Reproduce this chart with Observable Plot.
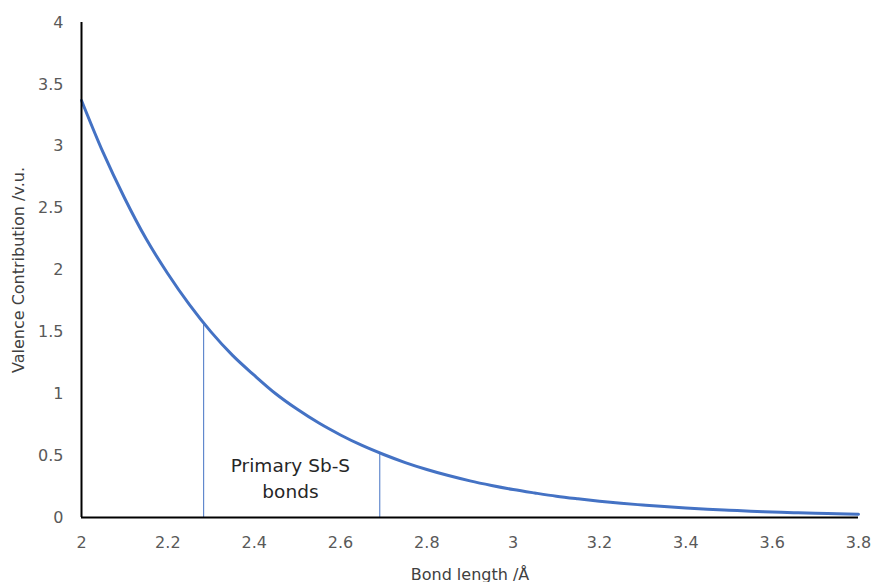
<!DOCTYPE html>
<html>
<head>
<meta charset="utf-8">
<script src="https://cdn.jsdelivr.net/npm/d3@7"></script>
<script src="https://cdn.jsdelivr.net/npm/@observablehq/plot@0.6"></script>
<style>
  html, body { margin: 0; padding: 0; background: #fff; }
  #chart { width: 872px; height: 582px; }
</style>
</head>
<body>
<div id="chart"></div>
<script>
// Bond length (Å) and valence contribution (v.u.)
const bondLength = [2.00, 2.05, 2.10, 2.15, 2.20, 2.25, 2.30, 2.35, 2.40, 2.45, 2.50, 2.55, 2.60, 2.65, 2.70, 2.75, 2.80, 2.85, 2.90, 2.95, 3.00, 3.05, 3.10, 3.15, 3.20, 3.25, 3.30, 3.35, 3.40, 3.45, 3.50, 3.55, 3.60, 3.65, 3.70, 3.75, 3.80];
const valence = [3.37, 2.95, 2.58, 2.25, 1.97, 1.72, 1.50, 1.31, 1.15, 1.00, 0.874, 0.763, 0.667, 0.582, 0.509, 0.444, 0.388, 0.339, 0.296, 0.259, 0.226, 0.198, 0.172, 0.151, 0.132, 0.115, 0.101, 0.088, 0.077, 0.067, 0.059, 0.051, 0.045, 0.039, 0.034, 0.030, 0.026];

// Boundaries of primary Sb-S bonds
const boundaryX = [2.283, 2.691];
const boundaryTop = [1.57, 0.52];

const xTicks = [2, 2.2, 2.4, 2.6, 2.8, 3, 3.2, 3.4, 3.6, 3.8];
const yTicks = [0, 0.5, 1, 1.5, 2, 2.5, 3, 3.5, 4];

const annotation = ["Primary Sb-S", "bonds"];
const annotationPos = { x: 2.484, y: 0.33 };

const curve = bondLength.map((x, i) => ({ x, y: valence[i] }));
const bounds = boundaryX.map((x, i) => ({ x, y: boundaryTop[i] }));

const font = "'DejaVu Sans', sans-serif";

const plot = Plot.plot({
  width: 872,
  height: 582,
  marginLeft: 81,
  marginRight: 14,
  marginTop: 22,
  marginBottom: 65,
  style: { fontFamily: font, background: "#fff" },
  x: { domain: [2, 3.8] },
  y: { domain: [0, 4] },
  marks: [
    Plot.ruleX(bounds, { x: "x", y1: 0, y2: "y", stroke: "#4472C4", strokeWidth: 1 }),
    Plot.line(curve, { x: "x", y: "y", stroke: "#4472C4", strokeWidth: 3, curve: "monotone-x" }),
    Plot.ruleY([0], { stroke: "#000", strokeWidth: 2 }),
    Plot.ruleX([2], { stroke: "#000", strokeWidth: 2 }),
    Plot.axisX(xTicks, {
      tickSize: 0, tickPadding: 19, fontSize: 16, color: "#595959",
      tickFormat: d => String(d),
      label: null
    }),
    Plot.axisY(yTicks, {
      tickSize: 0, tickPadding: 18, fontSize: 16, color: "#595959",
      tickFormat: d => String(d),
      label: null
    }),
    Plot.text(["Bond length /Å"], {
      frameAnchor: "bottom", dy: 62, text: d => d,
      fontSize: 16, fill: "#404040", fontFamily: font
    }),
    Plot.text(["Valence Contribution /v.u."], {
      frameAnchor: "left", dx: -63, rotate: -90, textAnchor: "middle", text: d => d,
      fontSize: 16, fill: "#404040", fontFamily: font
    }),
    Plot.text([annotation.join("\n")], {
      x: annotationPos.x, y: annotationPos.y, text: d => d,
      fontSize: 18.5, fill: "#262626", lineHeight: 1.4, fontFamily: font
    })
  ]
});
document.getElementById("chart").appendChild(plot);
</script>
</body>
</html>
